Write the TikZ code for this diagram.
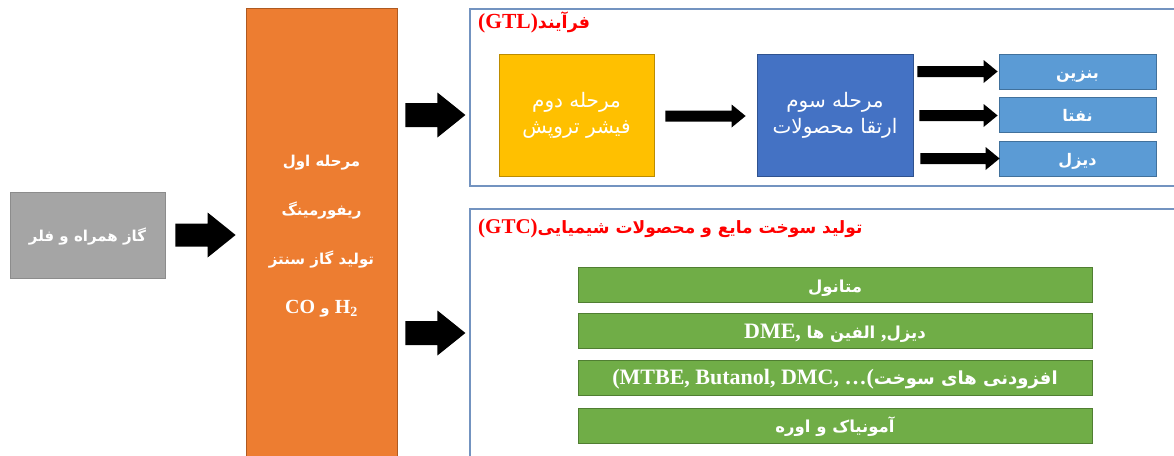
\documentclass[tikz,border=0pt]{standalone}
\usepackage{fontspec}
\setmainfont{Liberation Serif}
\newfontfamily\fa[Script=Arabic]{DejaVu Sans}
\TeXXeTstate=1
\usetikzlibrary{calc}

\definecolor{gasfill}{HTML}{A5A5A5}\definecolor{gasline}{HTML}{8C8C8C}
\definecolor{orfill}{HTML}{ED7D31}\definecolor{orline}{HTML}{AE5A21}
\definecolor{yefill}{HTML}{FFC000}\definecolor{yeline}{HTML}{BC8C00}
\definecolor{blfill}{HTML}{4472C4}\definecolor{blline}{HTML}{2F528F}
\definecolor{prfill}{HTML}{5B9BD5}\definecolor{prline}{HTML}{41719C}
\definecolor{grfill}{HTML}{70AD47}\definecolor{grline}{HTML}{507E32}
\definecolor{frameline}{HTML}{7393C0}
\definecolor{titlered}{HTML}{FF0000}

% horizontal block arrow: start, end, shaft half-width, head half-width, head length
\newcommand\blockarr[5]{%
  \fill[black] let \p1=(#1), \p2=(#2) in
    (\x1,{\y1+#3}) -- ({\x2-#5},{\y1+#3}) -- ({\x2-#5},{\y1+#4}) -- (\x2,\y1)
    -- ({\x2-#5},{\y1-#4}) -- ({\x2-#5},{\y1-#3}) -- (\x1,{\y1-#3}) -- cycle;}
% Latin pieces inside the Persian lines
\newcommand\lat[1]{{\rmfamily\bfseries\fontsize{22}{24}\selectfont #1}}

\begin{document}
\begin{tikzpicture}[x=1pt,y=-1pt,
  box/.style={rectangle,inner sep=0pt,line width=0.8pt,text=white,align=center},
  frame/.style={rectangle,draw=frameline,line width=1.2pt,inner sep=0pt},
  title/.style={anchor=west,inner sep=0pt,text=titlered},
  stagebox/.style={box,minimum height=122pt,font=\fa\fontsize{20}{26}\selectfont,
      execute at begin node={\vspace*{4pt}}},
  greenbox/.style={box,fill=grfill,draw=grline,minimum width=514pt,minimum height=35pt,
      text height=15pt,text depth=1pt,font=\fa\bfseries\fontsize{16.5}{18}\selectfont},
  prodbox/.style={box,fill=prfill,draw=prline,minimum width=157pt,minimum height=35pt,
      text height=15pt,text depth=1pt,font=\fa\bfseries\fontsize{16}{18}\selectfont},
]
\useasboundingbox (0,0) rectangle (1174,455);
\clip (0,0) rectangle (1174,455);

% outer frames of the two routes
\node[frame,minimum width=720pt,minimum height=177pt] (gtl) at (830,97.5) {};
\node[frame,minimum width=720pt,minimum height=270pt] (gtc) at (830,344) {};

% feed and first stage
\node[box,fill=gasfill,draw=gasline,minimum width=155pt,minimum height=86pt,
      text height=14pt,text depth=1pt,
      font=\fa\bfseries\fontsize{15}{18}\selectfont] (gas) at (87.5,235)
  {\beginR گاز همراه و فلر\endR};
\node[box,fill=orfill,draw=orline,minimum width=151pt,minimum height=456pt,
      font=\fa\bfseries\fontsize{15}{49}\selectfont] (orange) at (321.5,236)
  {\beginR مرحله اول\endR\\
   ریفورمینگ\\
   \beginR تولید گاز سنتز\endR\\
   \beginR\beginL{\rmfamily\fontsize{20}{22}\selectfont H\textsubscript{2}}\endL\ و
   \beginL{\rmfamily\fontsize{20}{22}\selectfont CO}\endL\endR};

% GTL route
\node[title,font=\fa\bfseries\fontsize{17.5}{20}\selectfont] (gtltitle) at (478,22)
  {\beginR فرآیند\beginL{\rmfamily\fontsize{21.5}{22}\selectfont(GTL)}\endL\endR};
\node[stagebox,fill=yefill,draw=yeline,minimum width=155pt] (yellow) at (576.5,115)
  {\beginR مرحله دوم\endR\\\beginR فیشر تروپش\endR};
\node[stagebox,fill=blfill,draw=blline,minimum width=156pt] (blue) at (835,115)
  {\beginR مرحله سوم\endR\\\beginR ارتقا محصولات\endR};
\node[prodbox] (benzin) at (1077.5,71.5) {بنزین};
\node[prodbox] (nafta)  at (1077.5,114.5) {نفتا};
\node[prodbox] (diesel) at (1077.5,158.5) {دیزل};

% GTC route
\node[title,font=\fa\bfseries\fontsize{17}{20}\selectfont] (gtctitle) at (478,228)
  {\beginR تولید سوخت مایع و محصولات شیمیایی\beginL{\rmfamily\fontsize{21}{22}\selectfont(GTC)}\endL\endR};
\node[greenbox] (methanol) at (835,285) {متانول};
\node[greenbox] (dme) at (835,331)
  {\beginR دیزل\lat{,} الفین ها \lat{,}\beginL\lat{DME}\endL\endR};
\node[greenbox,font=\fa\bfseries\fontsize{18}{18}\selectfont] (additive) at (835,377.5)
  {\beginR افزودنی های سوخت\beginL\lat{(MTBE, Butanol, DMC, \dots(}\endL\endR};
\node[greenbox] (ammonia) at (835,425.5)
  {\beginR آمونیاک و اوره\endR};

% block arrows between the stages
\blockarr{$(gas.east)+(10,0)$}{$(orange.west |- gas.east)+(-10,0)$}{11.5pt}{22.5pt}{28pt}
\blockarr{$(orange.east |- yellow.center)+(8,0)$}{$(gtl.west |- yellow.center)+(-4,0)$}{12pt}{22.5pt}{28pt}
\blockarr{$(orange.east |- dme.center)+(8,2)$}{$(gtc.west |- dme.center)+(-4,2)$}{12pt}{22.5pt}{28pt}
\blockarr{$(yellow.east)+(11,1)$}{$(blue.west)+(-11,1)$}{5.5pt}{11.5pt}{14pt}
\blockarr{$(blue.east |- benzin.west)+(4,0)$}{$(benzin.west)+(-1,0)$}{5.5pt}{11.5pt}{14pt}
\blockarr{$(blue.east |- nafta.west)+(6,1)$}{$(nafta.west)+(-1,1)$}{5.5pt}{11.5pt}{14pt}
\blockarr{$(blue.east |- diesel.west)+(7,0)$}{$(diesel.west)+(1,0)$}{5.5pt}{11.5pt}{14pt}
\end{tikzpicture}
\end{document}
